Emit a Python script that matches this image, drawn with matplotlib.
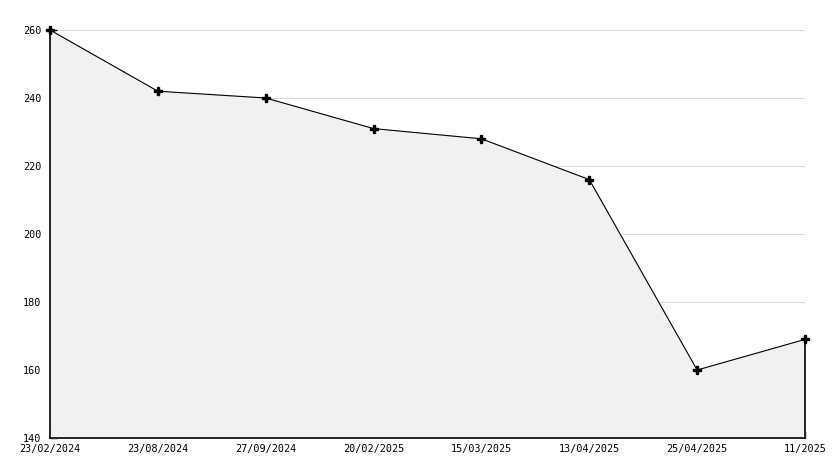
import matplotlib
matplotlib.use("Agg")
import matplotlib.pyplot as plt
import matplotlib.transforms as mtrans
from matplotlib.ticker import MultipleLocator

dates = ["23/02/2024", "23/08/2024", "27/09/2024", "20/02/2025",
         "15/03/2025", "13/04/2025", "25/04/2025", "11/2025"]
values = [260, 242, 240, 231, 228, 216, 160, 169]

W, H = 834, 468
fig = plt.figure(figsize=(W / 100, H / 100), dpi=100)
ax = fig.add_axes([50 / W, (H - 438) / H, (805 - 50) / W, (438 - 30) / H])

x = list(range(len(values)))
ax.fill_between(x, values, 140, color="#f1f1f1", zorder=1)
ax.plot(x, values, color="black", lw=0.8, zorder=3, clip_on=False)
ax.plot(x, values, linestyle="none", marker="P", ms=5.5, color="black",
        zorder=6, clip_on=False)
ax.plot([x[-1], x[-1]], [140, values[-1]], color="black", lw=1.2, zorder=3,
        clip_on=False)

ax.set_xlim(0, len(values) - 1)
ax.set_ylim(140, 260)
ax.set_xticks(x)
ax.set_xticklabels(dates)
ax.yaxis.set_major_locator(MultipleLocator(20))
ax.yaxis.set_minor_locator(MultipleLocator(10))
ax.grid(axis="y", which="major", color="#dddddd", lw=0.8, zorder=0)
ax.set_axisbelow(True)

for s in ["top", "right"]:
    ax.spines[s].set_visible(False)
for s in ["left", "bottom"]:
    ax.spines[s].set_linewidth(1.2)
    ax.spines[s].set_zorder(5)

ax.tick_params(axis="both", which="both", direction="in", color="black",
               labelsize=7.3, width=1)
ax.tick_params(axis="y", which="major", length=5, pad=6)
ax.tick_params(axis="y", which="minor", length=5)
ax.tick_params(axis="x", which="major", length=5, pad=4)
for lab in ax.get_xticklabels() + ax.get_yticklabels():
    lab.set_fontfamily("DejaVu Sans Mono")

fig.canvas.draw()
ylabs = ax.get_yticklabels()
if ylabs:
    lab0 = ylabs[0]
    lab0.set_transform(lab0.get_transform() +
                       mtrans.ScaledTranslation(0, 2 / 100, fig.dpi_scale_trans))

fig.savefig("out.png", dpi=100, facecolor="white")
